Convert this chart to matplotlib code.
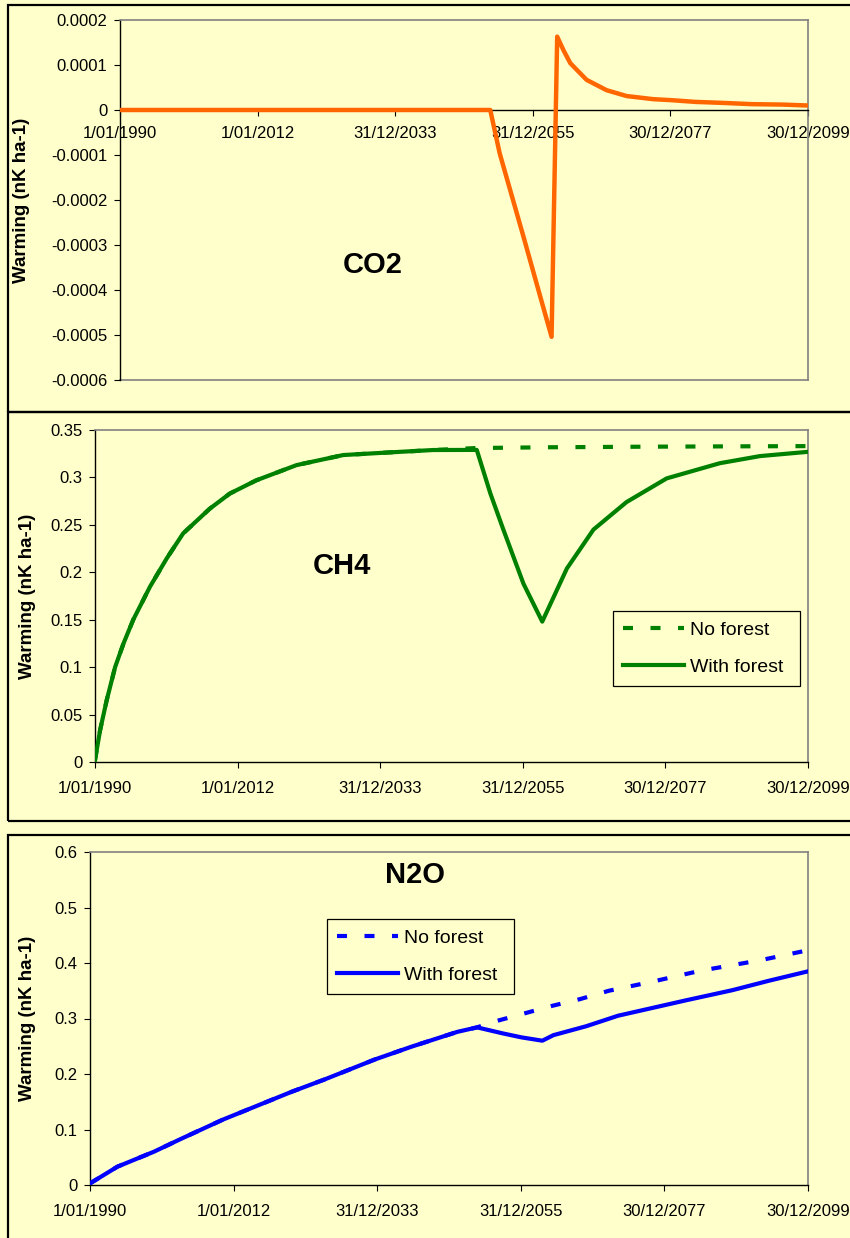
import matplotlib
matplotlib.use("Agg")
import matplotlib.pyplot as plt
from matplotlib.patches import Rectangle
from matplotlib.ticker import FixedLocator, FixedFormatter

plt.rcParams['font.family'] = ['Liberation Sans', 'DejaVu Sans']

# ---------------- data ----------------
tick_years = [1990, 2012, 2034, 2056, 2078, 2100]
tick_labels = ["1/01/1990", "1/01/2012", "31/12/2033", "31/12/2055", "30/12/2077", "30/12/2099"]

co2_years = [1990, 2049.2, 2050.7, 2054.5, 2057.2, 2059.0, 2059.9, 2060.9, 2062.0, 2064.6,
             2067.8, 2071.0, 2075.3, 2078.0, 2082.0, 2086.0, 2091.0, 2096.0, 2100.0]
co2_vals = [0, 0, -0.000096, -0.000281, -0.000415, -0.000504, 0.000163, 0.000133, 0.000104, 0.000067,
            0.000044, 0.000031, 0.000024, 0.000022, 0.000018, 0.000016, 0.000013, 0.000012, 0.000010]

ch4_years_with = [1990, 1990.8, 1991.8, 1993.1, 1994.4, 1995.9, 1998.5, 2001.1, 2003.6, 2007.7, 2010.8,
                  2014.9, 2021.1, 2028.3, 2035.5, 2042.2, 2048.9, 2051.0, 2053.0, 2056.1, 2059.0,
                  2062.8, 2066.9, 2072.0, 2078.2, 2086.4, 2092.6, 2100]
ch4_with = [0.002, 0.034, 0.065, 0.100, 0.125, 0.150, 0.185, 0.215, 0.241, 0.267, 0.283,
            0.297, 0.313, 0.3236, 0.3264, 0.3289, 0.329, 0.283, 0.245, 0.188, 0.148,
            0.204, 0.245, 0.274, 0.299, 0.315, 0.3225, 0.327]
ch4_years_no = [1990, 1990.8, 1991.8, 1993.1, 1994.4, 1995.9, 1998.5, 2001.1, 2003.6, 2007.7, 2010.8,
                2014.9, 2021.1, 2028.3, 2035.5, 2042.2, 2048.9, 2060.0, 2075.0, 2090.0, 2100]
ch4_no = [0.002, 0.034, 0.065, 0.100, 0.125, 0.150, 0.185, 0.215, 0.241, 0.267, 0.283,
          0.297, 0.313, 0.3236, 0.3264, 0.3289, 0.331, 0.3318, 0.3324, 0.3328, 0.333]

n2o_years_with = [1990, 1990.3, 1994.2, 1999.8, 2004.1, 2010.4, 2014.6, 2020.9, 2025.9, 2033.6, 2039.2,
                  2046.3, 2049.3, 2053.3, 2056.1, 2059.3, 2061.0, 2066.0, 2070.9, 2081.4, 2088.4,
                  2094.0, 2100]
n2o_with = [0.003, 0.005, 0.033, 0.060, 0.084, 0.118, 0.138, 0.168, 0.190, 0.226, 0.249,
            0.276, 0.284, 0.273, 0.266, 0.260, 0.270, 0.286, 0.305, 0.333, 0.351,
            0.368, 0.385]
n2o_years_no = [1990, 1990.3, 1994.2, 1999.8, 2004.1, 2010.4, 2014.6, 2020.9, 2025.9, 2033.6, 2039.2,
                2046.3, 2049.3, 2051.5, 2056.5, 2060.7, 2065.1, 2069.5, 2076.0, 2083.5, 2092.7, 2100]
n2o_no = [0.003, 0.005, 0.033, 0.060, 0.084, 0.118, 0.138, 0.168, 0.190, 0.226, 0.249,
          0.276, 0.284, 0.293, 0.309, 0.3225, 0.335, 0.350, 0.366, 0.386, 0.405, 0.423]

co2_yticks = [0.0002, 0.0001, 0, -0.0001, -0.0002, -0.0003, -0.0004, -0.0005, -0.0006]
co2_ylabels = ["0.0002", "0.0001", "0", "-0.0001", "-0.0002", "-0.0003", "-0.0004", "-0.0005", "-0.0006"]
ch4_yticks = [0, 0.05, 0.1, 0.15, 0.2, 0.25, 0.3, 0.35]
ch4_ylabels = ["0", "0.05", "0.1", "0.15", "0.2", "0.25", "0.3", "0.35"]
n2o_yticks = [0, 0.1, 0.2, 0.3, 0.4, 0.5, 0.6]
n2o_ylabels = ["0", "0.1", "0.2", "0.3", "0.4", "0.5", "0.6"]

# ---------------- styling ----------------
W, H = 850, 1238
BG = "#FFFFCC"
GRAY = "#808080"
fig = plt.figure(figsize=(W / 100, H / 100), dpi=100, facecolor=BG)


def fx(px):
    return px / W


def fy(py):
    return 1 - py / H


def add_axes(l, t, r, b):
    return fig.add_axes([fx(l), fy(b), fx(r) - fx(l), fy(t) - fy(b)])


# panel frames
for (t, b) in [(5, 412), (412, 821), (835, 1260)]:
    fig.add_artist(Rectangle((fx(8), fy(b)), fx(870) - fx(8), fy(t) - fy(b),
                             transform=fig.transFigure, fill=False, edgecolor="black",
                             linewidth=1.6, clip_on=False))


def style(ax, yticks, ylabels, ylim, xpad):
    ax.set_facecolor(BG)
    ax.set_xlim(1990, 2100)
    ax.set_ylim(*ylim)
    ax.xaxis.set_major_locator(FixedLocator(tick_years))
    ax.xaxis.set_major_formatter(FixedFormatter(tick_labels))
    ax.yaxis.set_major_locator(FixedLocator(yticks))
    ax.yaxis.set_major_formatter(FixedFormatter(ylabels))
    for s in ["top", "right"]:
        ax.spines[s].set_color(GRAY)
        ax.spines[s].set_linewidth(1.2)
    ax.spines["left"].set_color("black")
    ax.spines["left"].set_linewidth(1.0)
    ax.spines["bottom"].set_color("black")
    ax.spines["bottom"].set_linewidth(1.0)
    ax.tick_params(axis="both", direction="out", length=4, width=0.8, colors="black",
                   labelsize=12)
    ax.tick_params(axis="y", pad=5)
    ax.tick_params(axis="x", pad=xpad)


dash = (0, (2.4, 4.2))
LEG = dict(loc="upper left", borderaxespad=0, frameon=True, fancybox=False, edgecolor="black",
           facecolor=BG, framealpha=1, fontsize=14, handlelength=3.15, mode="expand",
           handletextpad=0.3, borderpad=0.52, labelspacing=1.0)

# ---- CO2 ----
ax1 = add_axes(120, 20, 808, 380)
style(ax1, co2_yticks, co2_ylabels, (-0.0006, 0.0002), 7.5)
ax1.spines["bottom"].set_position(("data", 0))
ax1.axhline(-0.0006, color=GRAY, linewidth=1.2, clip_on=False, zorder=1)
ax1.plot(co2_years, co2_vals, color="#FF6600", linewidth=3.2, solid_joinstyle="round", zorder=3)
ax1.text(0.367, 0.32, "CO2", transform=ax1.transAxes, fontsize=21, fontweight="bold",
         ha="center", va="center")

# ---- CH4 ----
ax2 = add_axes(95, 430, 808, 762)
style(ax2, ch4_yticks, ch4_ylabels, (0, 0.35), 9.5)
l1, = ax2.plot(ch4_years_no, ch4_no, color="#008000", linewidth=3.0, linestyle=dash,
               dash_capstyle="butt", label="No forest", zorder=3)
l2, = ax2.plot(ch4_years_with, ch4_with, color="#008000", linewidth=3.0, label="With forest",
               solid_joinstyle="round", zorder=3)
ax2.text(0.347, 0.59, "CH4", transform=ax2.transAxes, fontsize=21, fontweight="bold",
         ha="center", va="center")
leg2 = ax2.legend(handles=[l1, l2], bbox_to_anchor=(0.7265, 0.2289, 0.2623, 0.2259), **LEG)
leg2.get_frame().set_linewidth(0.9)

# ---- N2O ----
ax3 = add_axes(90, 852, 808, 1185)
style(ax3, n2o_yticks, n2o_ylabels, (0, 0.6), 10)
m1, = ax3.plot(n2o_years_no, n2o_no, color="#0000FF", linewidth=3.0, linestyle=dash,
               dash_capstyle="butt", label="No forest", zorder=3)
m2, = ax3.plot(n2o_years_with, n2o_with, color="#0000FF", linewidth=3.0, label="With forest",
               solid_joinstyle="round", zorder=3)
ax3.text(0.453, 0.93, "N2O", transform=ax3.transAxes, fontsize=21, fontweight="bold",
         ha="center", va="center")
leg3 = ax3.legend(handles=[m1, m2], bbox_to_anchor=(0.330, 0.574, 0.2604, 0.225), **LEG)
leg3.get_frame().set_linewidth(0.9)

# y labels
for (x, y) in [(22, 200), (28, 596), (28, 1018)]:
    fig.text(fx(x), fy(y), "Warming (nK ha-1)", rotation=90, fontsize=13.5, fontweight="bold",
             ha="center", va="center")

fig.savefig("out.png", dpi=100, facecolor=BG)
